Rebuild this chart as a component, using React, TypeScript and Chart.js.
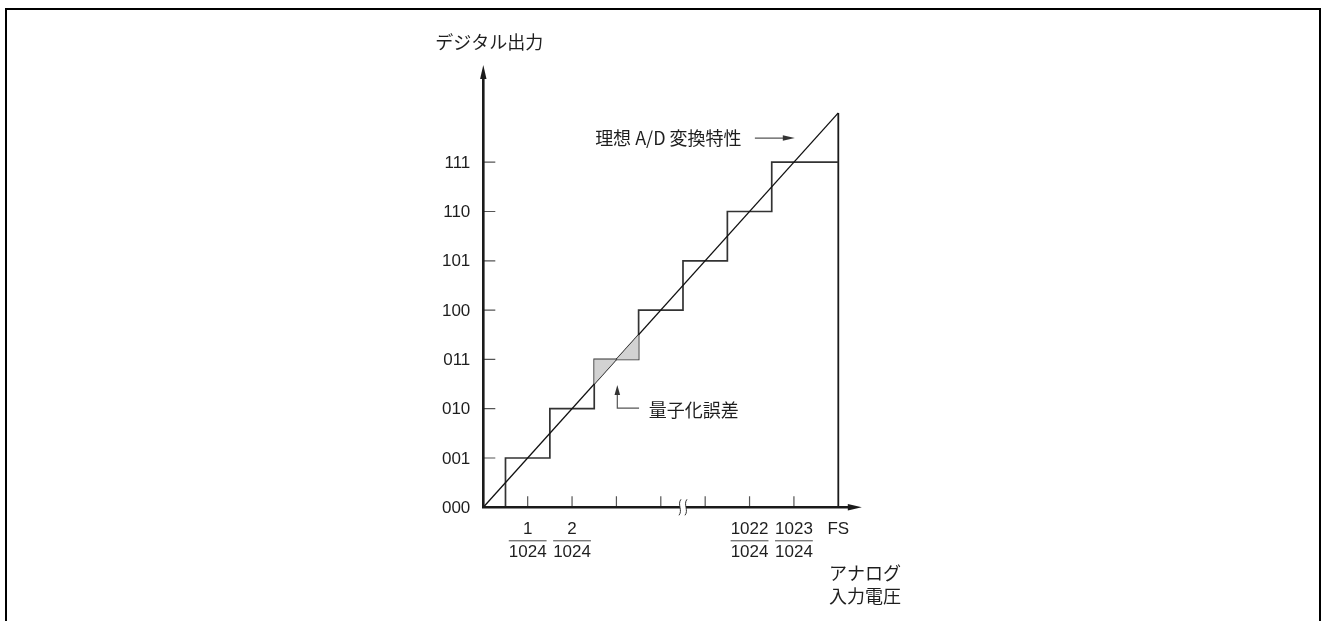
import React, { useEffect, useRef } from 'react';
import { Chart, registerables } from 'chart.js';

Chart.register(...registerables);

// ---- data ----
const codeLabels = ['000', '001', '010', '011', '100', '101', '110', '111'];
const codeLevels = [0, 1, 2, 3, 4, 5, 6, 7];
const stepStartX = [0.5, 1.5, 2.5, 3.5, 4.5, 5.5, 6.5]; // input where codes 001..111 begin
const stepEndX = 8; // FS
const idealX = [0, 8];
const idealY = [0, 8];
const fsLineX = [8, 8];
const fsLineY = [0, 8];
const errorX = [2.5, 2.5, 3, 3.5, 3.5];
const errorY = [2.5, 3, 3, 3, 3.5];
const xMinorTicks = [1, 2, 3, 4, 5, 6, 7];
const xFracPos = [1, 2, 6, 7];
const xFracNum = ['1', '2', '1022', '1023'];
const xFracDen = '1024';
const fsPos = 8;
const fsLabel = 'FS';
const breakPos = 4.5;
const yTitle = 'デジタル出力';
const xTitle = ['アナログ', '入力電圧'];
const idealLabel = '理想 A/D 変換特性';
const errorLabel = '量子化誤差';

const NUM_FONT = '17px "Liberation Sans", Arial, sans-serif';
const JP_FONT = '18px "Noto Sans CJK JP", "Liberation Sans", sans-serif';
const TEXT = '#1e1e1e';

function buildStairs() {
  const pts: { x: number; y: number }[] = [];
  for (let i = 0; i < stepStartX.length; i++) {
    pts.push({ x: stepStartX[i], y: codeLevels[i] });
    pts.push({ x: stepStartX[i], y: codeLevels[i + 1] });
  }
  pts.push({ x: stepEndX, y: codeLevels[codeLevels.length - 1] });
  return pts;
}

const zip = (xs: number[], ys: number[]) => xs.map((x, i) => ({ x, y: ys[i] }));

const decorPlugin = {
  id: 'decor',
  beforeDraw(chart: any) {
    const ctx = chart.ctx;
    ctx.save();
    ctx.fillStyle = '#fff';
    ctx.fillRect(0, 0, chart.width, chart.height);
    ctx.strokeStyle = '#000';
    ctx.lineWidth = 2;
    ctx.beginPath();
    ctx.moveTo(6, chart.height + 5);
    ctx.lineTo(6, 9);
    ctx.lineTo(1320, 9);
    ctx.lineTo(1320, chart.height + 5);
    ctx.stroke();
    ctx.restore();
  },
  afterDatasetsDraw(chart: any) {
    const ctx = chart.ctx;
    const xs = chart.scales.x;
    const ys = chart.scales.y;
    const px = (v: number) => xs.getPixelForValue(v);
    const py = (v: number) => ys.getPixelForValue(v);
    const x0 = px(0);
    const y0 = py(0);
    ctx.save();

    // tick marks
    ctx.strokeStyle = '#555';
    ctx.lineWidth = 1.2;
    ctx.beginPath();
    codeLevels.slice(1).forEach((v) => {
      ctx.moveTo(x0, py(v));
      ctx.lineTo(x0 + 12, py(v));
    });
    xMinorTicks.forEach((v) => {
      ctx.moveTo(px(v), y0);
      ctx.lineTo(px(v), y0 - 11);
    });
    ctx.stroke();

    // axes
    const yTop = py(8.97);
    const xEnd = px(8.53);
    ctx.strokeStyle = '#1a1a1a';
    ctx.lineWidth = 2.6;
    ctx.beginPath();
    ctx.moveTo(x0, yTop + 10);
    ctx.lineTo(x0, y0);
    ctx.lineTo(xEnd - 10, y0);
    ctx.stroke();
    ctx.fillStyle = '#1a1a1a';
    ctx.beginPath();
    ctx.moveTo(x0, yTop);
    ctx.lineTo(x0 - 3.2, yTop + 14);
    ctx.lineTo(x0 + 3.2, yTop + 14);
    ctx.closePath();
    ctx.fill();
    ctx.beginPath();
    ctx.moveTo(xEnd, y0);
    ctx.lineTo(xEnd - 14, y0 - 3.2);
    ctx.lineTo(xEnd - 14, y0 + 3.2);
    ctx.closePath();
    ctx.fill();

    // axis break mark
    const bx = px(breakPos);
    ctx.fillStyle = '#fff';
    ctx.fillRect(bx - 3, y0 - 3, 6, 6);
    ctx.strokeStyle = '#333';
    ctx.lineWidth = 1;
    [-3, 3].forEach((d) => {
      ctx.beginPath();
      ctx.moveTo(bx + d + 1, y0 - 8);
      ctx.bezierCurveTo(bx + d - 3, y0 - 3, bx + d + 3, y0 + 3, bx + d - 1, y0 + 8);
      ctx.stroke();
    });

    // y tick labels
    ctx.fillStyle = TEXT;
    ctx.font = NUM_FONT;
    ctx.textAlign = 'right';
    ctx.textBaseline = 'middle';
    codeLevels.forEach((v, i) => {
      ctx.fillText(codeLabels[i], x0 - 13, py(v) + 1);
    });

    // x fraction labels
    ctx.textAlign = 'center';
    const numY = y0 + 22;
    const lineY = y0 + 33.5;
    const denY = y0 + 45;
    xFracPos.forEach((v, i) => {
      const cx = px(v);
      ctx.fillText(xFracNum[i], cx, numY);
      ctx.fillText(xFracDen, cx, denY);
      const w = ctx.measureText(xFracDen).width;
      ctx.strokeStyle = '#444';
      ctx.lineWidth = 1;
      ctx.beginPath();
      ctx.moveTo(cx - w / 2, lineY);
      ctx.lineTo(cx + w / 2, lineY);
      ctx.stroke();
    });
    ctx.fillText(fsLabel, px(fsPos), numY);

    // titles
    ctx.font = JP_FONT;
    ctx.textAlign = 'left';
    ctx.fillText(yTitle, x0 - 48, py(9.44));
    ctx.fillText(xTitle[0], px(7.79), y0 + 66);
    ctx.fillText(xTitle[1], px(7.79), y0 + 89);

    // ideal label + arrow
    const iy = py(7.49);
    ctx.fillText(idealLabel, px(2.52), iy);
    ctx.strokeStyle = '#555';
    ctx.lineWidth = 1.2;
    ctx.beginPath();
    ctx.moveTo(px(6.12), iy);
    ctx.lineTo(px(7.02) - 8, iy);
    ctx.stroke();
    ctx.fillStyle = '#333';
    ctx.beginPath();
    ctx.moveTo(px(7.02), iy);
    ctx.lineTo(px(7.02) - 12, iy - 2.8);
    ctx.lineTo(px(7.02) - 12, iy + 2.8);
    ctx.closePath();
    ctx.fill();

    // quantization error label + arrow
    const ax = px(3.02);
    const tipY = py(2.48);
    const elbowY = py(2.01);
    ctx.beginPath();
    ctx.moveTo(ax, tipY + 8);
    ctx.lineTo(ax, elbowY);
    ctx.lineTo(px(3.51), elbowY);
    ctx.stroke();
    ctx.beginPath();
    ctx.moveTo(ax, tipY);
    ctx.lineTo(ax - 2.8, tipY + 10);
    ctx.lineTo(ax + 2.8, tipY + 10);
    ctx.closePath();
    ctx.fill();
    ctx.fillStyle = TEXT;
    ctx.fillText(errorLabel, px(3.73), py(1.97));

    ctx.restore();
  },
};

export default function App() {
  const ref = useRef<HTMLCanvasElement | null>(null);
  useEffect(() => {
    if (!ref.current) return;
    const chart = new Chart(ref.current, {
      type: 'scatter',
      data: {
        datasets: [
          {
            data: zip(errorX, errorY),
            showLine: true,
            fill: 'shape',
            backgroundColor: '#d2d2d2',
            borderWidth: 0,
            pointRadius: 0,
            clip: false,
          } as any,
          {
            data: zip(idealX, idealY),
            showLine: true,
            borderColor: '#111',
            borderWidth: 1.3,
            pointRadius: 0,
            fill: false,
            clip: false,
          },
          {
            data: buildStairs(),
            showLine: true,
            borderColor: '#333',
            borderWidth: 1.7,
            borderJoinStyle: 'miter',
            pointRadius: 0,
            fill: false,
            clip: false,
          },
          {
            data: zip(fsLineX, fsLineY),
            showLine: true,
            borderColor: '#1a1a1a',
            borderWidth: 1.8,
            pointRadius: 0,
            fill: false,
            clip: false,
          },
        ],
      },
      options: {
        animation: false,
        responsive: false,
        maintainAspectRatio: false,
        layout: { padding: { left: 483.3, right: 483.7, top: 112.9, bottom: 113.7 } },
        plugins: { legend: { display: false }, tooltip: { enabled: false } },
        events: [],
        scales: {
          x: { type: 'linear', min: 0, max: 8, display: false },
          y: { type: 'linear', min: 0, max: 8, display: false },
        },
      },
      plugins: [decorPlugin],
    });
    return () => chart.destroy();
  }, []);
  return (
    <div style={{ position: 'absolute', left: 0, top: 0, width: 1322, height: 621, overflow: 'hidden' }}>
      <canvas ref={ref} width={1322} height={621} style={{ display: 'block' }} />
    </div>
  );
}
